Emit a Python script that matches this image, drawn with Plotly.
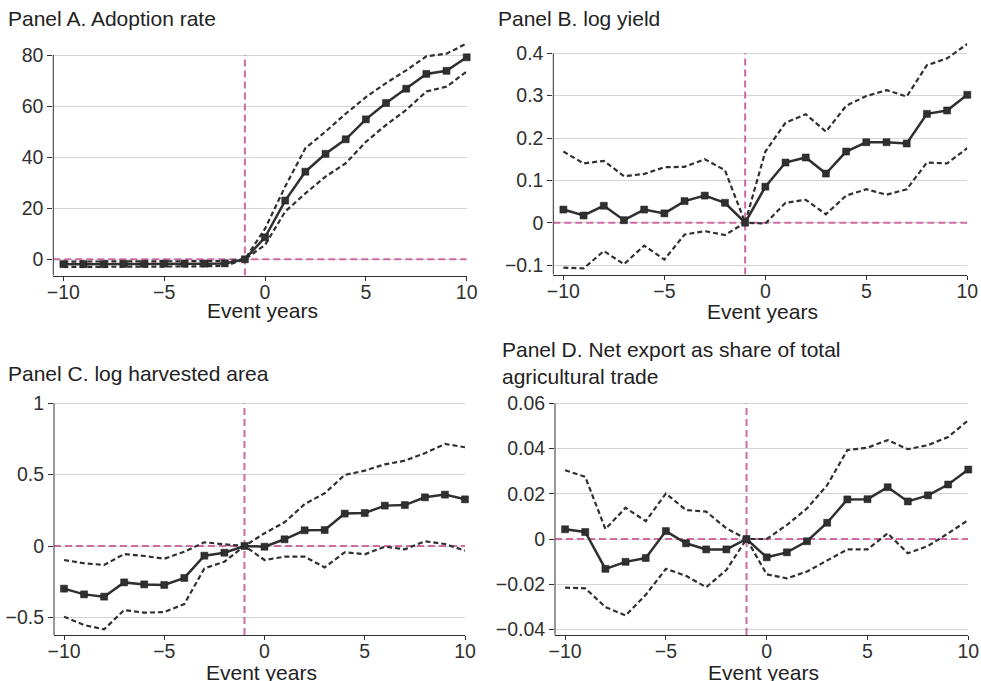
import plotly.graph_objects as go

# ---------------- data ----------------
event_years = list(range(-10, 11))

# Panel A. Adoption rate
a_est = [-1.9, -1.9, -1.9, -1.8, -1.8, -1.7, -1.7, -1.7, -1.6, 0.0,
         8.6, 23.0, 34.3, 41.3, 47.0, 54.8, 61.2, 66.8, 72.6, 73.8, 79.1]
a_hi = [-0.9, -0.9, -0.9, -0.8, -0.8, -0.8, -0.8, -0.8, -0.7, 0.0,
        12.0, 28.5, 43.5, 50.0, 57.0, 63.5, 69.0, 74.0, 79.5, 80.5, 84.5]
a_lo = [-3.0, -3.0, -3.0, -2.9, -2.9, -2.8, -2.8, -2.7, -2.6, 0.0,
        5.6, 18.7, 25.8, 32.4, 37.6, 46.0, 52.6, 58.5, 65.7, 67.6, 73.5]

# Panel B. log yield
b_est = [0.031, 0.017, 0.040, 0.006, 0.031, 0.022, 0.051, 0.064, 0.047, 0.0,
         0.085, 0.142, 0.154, 0.116, 0.168, 0.190, 0.190, 0.187, 0.257, 0.265, 0.302]
b_hi = [0.168, 0.140, 0.146, 0.110, 0.115, 0.131, 0.132, 0.150, 0.124, 0.0,
        0.168, 0.236, 0.256, 0.215, 0.276, 0.299, 0.313, 0.298, 0.372, 0.388, 0.422]
b_lo = [-0.106, -0.108, -0.067, -0.098, -0.054, -0.087, -0.028, -0.020, -0.029, 0.0,
        -0.002, 0.047, 0.054, 0.020, 0.064, 0.079, 0.066, 0.079, 0.142, 0.140, 0.176]

# Panel C. log harvested area
c_est = [-0.299, -0.339, -0.355, -0.255, -0.269, -0.273, -0.224, -0.068, -0.047, 0.0,
         -0.005, 0.047, 0.110, 0.112, 0.227, 0.231, 0.283, 0.287, 0.341, 0.360, 0.327]
c_hi = [-0.098, -0.121, -0.133, -0.056, -0.070, -0.089, -0.040, 0.026, 0.012, 0.0,
        0.089, 0.166, 0.294, 0.369, 0.498, 0.528, 0.572, 0.598, 0.650, 0.715, 0.692]
c_lo = [-0.495, -0.554, -0.584, -0.449, -0.467, -0.463, -0.407, -0.157, -0.110, 0.0,
        -0.098, -0.075, -0.075, -0.150, -0.044, -0.058, -0.005, -0.023, 0.033, 0.014, -0.033]

# Panel D. Net export as share of total agricultural trade
d_est = [0.0043, 0.0031, -0.0132, -0.0101, -0.0084, 0.0035, -0.0019, -0.0046, -0.0046, 0.0,
         -0.0081, -0.0059, -0.0010, 0.0072, 0.0175, 0.0176, 0.0229, 0.0166, 0.0193, 0.0241, 0.0307]
d_hi = [0.0304, 0.0275, 0.0044, 0.0138, 0.0079, 0.0201, 0.0128, 0.0121, 0.0047, 0.0,
        0.0, 0.0062, 0.0135, 0.0238, 0.0393, 0.0404, 0.0437, 0.0397, 0.0415, 0.0451, 0.0525]
d_lo = [-0.0215, -0.0218, -0.0301, -0.0338, -0.0247, -0.0132, -0.0163, -0.0213, -0.0137, 0.0,
        -0.0156, -0.0174, -0.0144, -0.0096, -0.0046, -0.0046, 0.0025, -0.0063, -0.0031, 0.0025, 0.0084]

titles = ["Panel A. Adoption rate",
          "Panel B. log yield",
          "Panel C. log harvested area",
          "Panel D. Net export as share of total<br>agricultural trade"]

a_ticks = [0, 20, 40, 60, 80]
a_ticklabels = ["0", "20", "40", "60", "80"]
b_ticks = [-0.1, 0, 0.1, 0.2, 0.3, 0.4]
b_ticklabels = ["\u22120.1", "0", "0.1", "0.2", "0.3", "0.4"]
c_ticks = [-0.5, 0, 0.5, 1]
c_ticklabels = ["\u22120.5", "0", "0.5", "1"]
d_ticks = [-0.04, -0.02, 0, 0.02, 0.04, 0.06]
d_ticklabels = ["\u22120.04", "\u22120.02", "0", "0.02", "0.04", "0.06"]
x_ticks = [-10, -5, 0, 5, 10]
x_ticklabels = ["\u221210", "\u22125", "0", "5", "10"]
x_title = "Event years"
event_line = -1

# ---------------- layout helpers ----------------
W, H = 981, 681
FONT = "Liberation Sans, Arial, Helvetica, sans-serif"
DARK = "#303030"
PINK = "#CF6AA3"
GRID = "#D4D4D4"
TICK_SIZE = 19.5
TEXT_SIZE = 21

panels = [
    dict(px=(53.3, 466.7, 40, 275.5), y0px=259.3, ytp=55.0, ytv=80,
         est=a_est, hi=a_hi, lo=a_lo, ticks=a_ticks, labels=a_ticklabels,
         title=titles[0], tx=6, ty=18, xt_y=311),
    dict(px=(553.3, 967.3, 40, 274.5), y0px=222.7, ytp=53.3, ytv=0.4,
         est=b_est, hi=b_hi, lo=b_lo, ticks=b_ticks, labels=b_ticklabels,
         title=titles[1], tx=496, ty=18, xt_y=311),
    dict(px=(54, 465, 401, 635), y0px=546.0, ytp=403.3, ytv=1,
         est=c_est, hi=c_hi, lo=c_lo, ticks=c_ticks, labels=c_ticklabels,
         title=titles[2], tx=6, ty=373, xt_y=672),
    dict(px=(555, 968.3, 401, 635), y0px=539.0, ytp=403.3, ytv=0.06,
         est=d_est, hi=d_hi, lo=d_lo, ticks=d_ticks, labels=d_ticklabels,
         title=titles[3], tx=500, ty=363, xt_y=672),
]

fig = go.Figure()
annotations = []
shapes = []
XMIN, XMAX = -10.5, 10

for i, p in enumerate(panels, start=1):
    l, r, t, b = p["px"]
    scale = (p["y0px"] - p["ytp"]) / p["ytv"]
    ymax = (p["y0px"] - t) / scale
    ymin = (p["y0px"] - b) / scale
    xa = "x" if i == 1 else f"x{i}"
    ya = "y" if i == 1 else f"y{i}"
    xkey = "xaxis" if i == 1 else f"xaxis{i}"
    ykey = "yaxis" if i == 1 else f"yaxis{i}"

    fig.update_layout(**{
        xkey: dict(domain=[l / W, r / W], anchor=ya, range=[XMIN, XMAX],
                   tickvals=x_ticks, ticktext=x_ticklabels, showgrid=False,
                   zeroline=False, showline=True, linecolor=DARK, linewidth=1,
                   ticks="outside", ticklen=4, tickcolor=DARK, tickwidth=1,
                   ticklabelstandoff=-5, automargin=False,
                   tickfont=dict(family=FONT, size=TICK_SIZE, color=DARK)),
        ykey: dict(domain=[1 - b / H, 1 - t / H], anchor=xa, range=[ymin, ymax],
                   tickvals=p["ticks"], ticktext=p["labels"], showgrid=True,
                   gridcolor=GRID, gridwidth=1, zeroline=False, showline=False,
                   ticks="outside", ticklen=5, tickcolor=DARK, tickwidth=1,
                   automargin=False,
                   tickfont=dict(family=FONT, size=TICK_SIZE, color=DARK)),
    })

    top_tick = max(p["ticks"])
    shapes.append(dict(type="line", xref=f"{xa} domain", yref=ya, x0=0, x1=0,
                       y0=ymin, y1=top_tick, line=dict(color=DARK, width=1)))

    fig.add_trace(go.Scatter(x=[XMIN, XMAX], y=[0, 0], mode="lines",
                             line=dict(color=PINK, width=2, dash="7px,4px"),
                             xaxis=xa, yaxis=ya, showlegend=False, hoverinfo="skip"))
    fig.add_trace(go.Scatter(x=[event_line, event_line], y=[ymin, top_tick], mode="lines",
                             line=dict(color=PINK, width=2, dash="7px,4px"),
                             xaxis=xa, yaxis=ya, showlegend=False, hoverinfo="skip"))

    for series in (p["hi"], p["lo"]):
        fig.add_trace(go.Scatter(x=event_years, y=series, mode="lines",
                                 line=dict(color=DARK, width=2.2, dash="5px,3px"),
                                 xaxis=xa, yaxis=ya, showlegend=False))
    fig.add_trace(go.Scatter(x=event_years, y=p["est"], mode="lines+markers",
                             line=dict(color=DARK, width=2.5),
                             marker=dict(symbol="square", size=7, color=DARK,
                                         line=dict(color="#1a1a1a", width=0.5)),
                             cliponaxis=False, xaxis=xa, yaxis=ya, showlegend=False))

    dw = r - l
    dh = b - t
    annotations.append(dict(text=p["title"], x=(p["tx"] - l) / dw, y=(b - p["ty"]) / dh,
                            xref=f"{xa} domain", yref=f"{ya} domain",
                            xanchor="left", yanchor="middle", align="left",
                            showarrow=False,
                            font=dict(family=FONT, size=TEXT_SIZE, color="#222222")))
    annotations.append(dict(text=x_title, x=((l + r) / 2 + 2 - l) / dw,
                            y=(b - p["xt_y"]) / dh,
                            xref=f"{xa} domain", yref=f"{ya} domain",
                            xanchor="center", yanchor="middle", showarrow=False,
                            font=dict(family=FONT, size=TEXT_SIZE, color="#222222")))

fig.update_layout(width=W, height=H, margin=dict(l=0, r=0, t=0, b=0, autoexpand=False),
                  paper_bgcolor="white", plot_bgcolor="white",
                  annotations=annotations, shapes=shapes, showlegend=False)

fig.write_html("out.html")
